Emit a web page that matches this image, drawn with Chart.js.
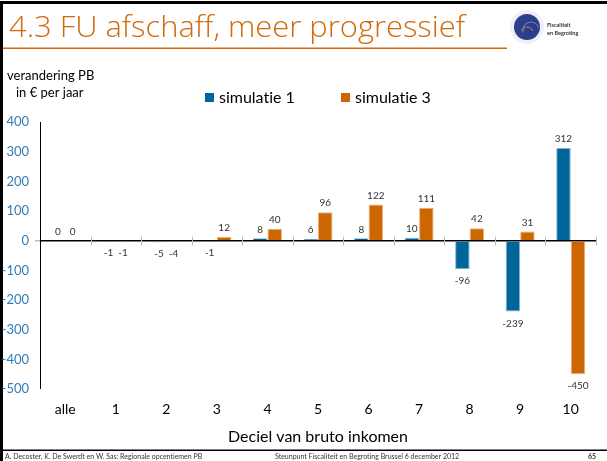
<!DOCTYPE html>
<html>
<head>
<meta charset="utf-8">
<title>4.3 FU afschaff, meer progressief</title>
<script src="https://cdn.jsdelivr.net/npm/chart.js@4.4.1/dist/chart.umd.min.js"></script>
<style>
	body { margin: 0; background: #fff; }
	canvas { display: block; }
</style>
</head>
<body>
<canvas id="graficoDeciel" width="607" height="461"></canvas>
<script>
var decielen = ['alle', '1', '2', '3', '4', '5', '6', '7', '8', '9', '10'];
var simulatie1 = [0, -1, -5, -1, 8, 6, 8, 10, -96, -239, 312];
var simulatie3 = [0, -1, -4, 12, 40, 96, 122, 111, 42, 31, -450];
var yTicks = [-500, -400, -300, -200, -100, 0, 100, 200, 300, 400];

var titel = '4.3 FU afschaff, meer progressief';
var yTitel = ['verandering PB', 'in € per jaar'];
var xTitel = 'Deciel van bruto inkomen';
var voetLinks = 'A. Decoster, K. De Swerdt en W. Sas: Regionale opcentiemen PB';
var voetMidden = 'Steunpunt Fiscaliteit en Begroting Brussel 6 december 2012';
var paginaNr = '65';

var BLAUW = '#00659a';
var ORANJE = '#cc6600';
var LETTER = 'Lato, "Open Sans", sans-serif';

// dia-opmaak: kader, titel, logo, voettekst, legenda
var dia = {
	id: 'dia',
	beforeDraw: function(chart) {
		var ctx = chart.ctx;
		ctx.save();
		ctx.fillStyle = '#fff';
		ctx.fillRect(0, 0, chart.width, chart.height);
		ctx.fillStyle = '#000';
		ctx.fillRect(0, 1, chart.width, 3);
		ctx.fillRect(0, 1, 3, chart.height);
		ctx.fillRect(3, 449.5, chart.width, 1.5);
		ctx.restore();
	},
	afterDraw: function(chart) {
		var ctx = chart.ctx;
		ctx.save();
		if ('textRendering' in ctx) ctx.textRendering = 'optimizeSpeed'; // geen ligaturen

		// titel
		ctx.font = '300 29px "Open Sans", "DejaVu Sans", sans-serif';
		ctx.fillStyle = '#d06a0c';
		ctx.textBaseline = 'alphabetic';
		var w = ctx.measureText(titel).width;
		ctx.save();
		ctx.translate(9, 37);
		ctx.scale(456 / w, 1);
		ctx.fillText(titel, 0, 0);
		ctx.restore();
		ctx.fillRect(3, 47.5, 504, 1.5);

		// logo
		ctx.beginPath();
		ctx.arc(527, 27, 17, 0, Math.PI * 2);
		ctx.fillStyle = '#eef0f3';
		ctx.fill();
		ctx.beginPath();
		ctx.arc(527, 27, 13, 0, Math.PI * 2);
		ctx.fillStyle = '#2c3d8c';
		ctx.fill();
		ctx.strokeStyle = '#8a9bd0';
		ctx.lineWidth = 0.8;
		ctx.beginPath();
		ctx.arc(531, 30, 8, Math.PI * 0.9, Math.PI * 1.9);
		ctx.stroke();
		ctx.strokeStyle = '#c9a33a';
		ctx.beginPath();
		ctx.arc(527, 33, 6, Math.PI * 1.1, Math.PI * 1.9);
		ctx.stroke();
		ctx.fillStyle = '#333';
		ctx.font = 'bold 5.5px ' + LETTER;
		ctx.textAlign = 'left';
		ctx.fillText('Fiscaliteit', 547, 27);
		ctx.fillText('en Begroting', 547, 35);

		// voettekst
		ctx.font = '7px ' + LETTER;
		ctx.fillStyle = '#333';
		ctx.fillText(voetLinks, 5, 459);
		ctx.fillText(voetMidden, 275, 459);
		ctx.font = 'bold 7px ' + LETTER;
		ctx.fillText(paginaNr, 588, 459);

		// astitel y (horizontaal)
		ctx.font = '13px ' + LETTER;
		ctx.fillStyle = '#000';
		ctx.textBaseline = 'middle';
		ctx.fillText(yTitel[0], 7, 76);
		ctx.fillText(yTitel[1], 16, 93);

		// legenda
		ctx.font = '16px ' + LETTER;
		var x = 205;
		chart.data.datasets.forEach(function(ds) {
			ctx.fillStyle = ds.backgroundColor;
			ctx.fillRect(x, 93, 9, 9);
			ctx.fillStyle = '#000';
			ctx.fillText(ds.label, x + 14, 98);
			x += 136;
		});

		// streepjes op de nullijn tussen de categorieen
		var xs = chart.scales.x;
		var y0 = chart.scales.y.getPixelForValue(0);
		var stap = xs.width / decielen.length;
		ctx.strokeStyle = '#bbb';
		ctx.lineWidth = 1;
		for (var i = 1; i <= decielen.length; i++) {
			var px = Math.round(xs.left + i * stap) + 0.5;
			ctx.beginPath();
			ctx.moveTo(px, y0 - 4);
			ctx.lineTo(px, y0 + 5);
			ctx.stroke();
		}
		ctx.restore();
	}
};

// waarden boven/onder de staven
var waarden = {
	id: 'waarden',
	afterDatasetsDraw: function(chart) {
		var ctx = chart.ctx;
		ctx.save();
		ctx.font = '10px ' + LETTER;
		ctx.fillStyle = '#333';
		ctx.textAlign = 'center';
		ctx.textBaseline = 'middle';
		chart.data.datasets.forEach(function(ds, i) {
			chart.getDatasetMeta(i).data.forEach(function(bar, j) {
				var v = ds.data[j];
				var y = v >= 0 ? bar.y - 9 : bar.y + 12;
				ctx.fillText(String(v), bar.x, y);
			});
		});
		ctx.restore();
	}
};

var ctx = document.getElementById('graficoDeciel').getContext('2d');
var grafiek = new Chart(ctx, {
	type: 'bar',
	data: {
		labels: decielen,
		datasets: [{
			label: 'simulatie 1',
			backgroundColor: BLAUW,
			borderColor: 'rgba(120, 170, 210, 0.9)',
			borderWidth: 1,
			data: simulatie1
		}, {
			label: 'simulatie 3',
			backgroundColor: ORANJE,
			borderColor: 'rgba(235, 170, 110, 0.9)',
			borderWidth: 1,
			data: simulatie3
		}]
	},
	options: {
		responsive: false,
		animation: false,
		devicePixelRatio: 1,
		categoryPercentage: 0.574,
		barPercentage: 1,
		layout: { padding: { top: 122, right: 11, left: 0, bottom: 0 } },
		plugins: {
			legend: { display: false },
			tooltip: { enabled: false }
		},
		scales: {
			x: {
				grid: { display: false, drawTicks: false },
				border: { display: false },
				ticks: { color: '#000', font: { family: LETTER, size: 14 }, padding: 12 },
				title: {
					display: true,
					text: xTitel,
					color: '#000',
					font: { family: LETTER, size: 16 },
					padding: { top: 0, bottom: 15 }
				},
				afterFit: function(scale) { scale.height = 72; }
			},
			y: {
				min: -500,
				max: 400,
				afterBuildTicks: function(scale) {
					scale.ticks = yTicks.map(function(v) { return { value: v }; });
				},
				grid: {
					color: function(c) { return c.tick && c.tick.value === 0 ? '#000' : 'rgba(0,0,0,0)'; },
					lineWidth: function(c) { return c.tick && c.tick.value === 0 ? 1.5 : 0; },
					tickColor: '#bbb',
					tickLength: 5
				},
				border: { color: '#000', width: 1 },
				ticks: { color: '#2e7db3', font: { family: LETTER, size: 13 }, padding: 6 },
				afterFit: function(scale) { scale.width = 40; }
			}
		}
	},
	plugins: [dia, waarden]
});
</script>
</body>
</html>
